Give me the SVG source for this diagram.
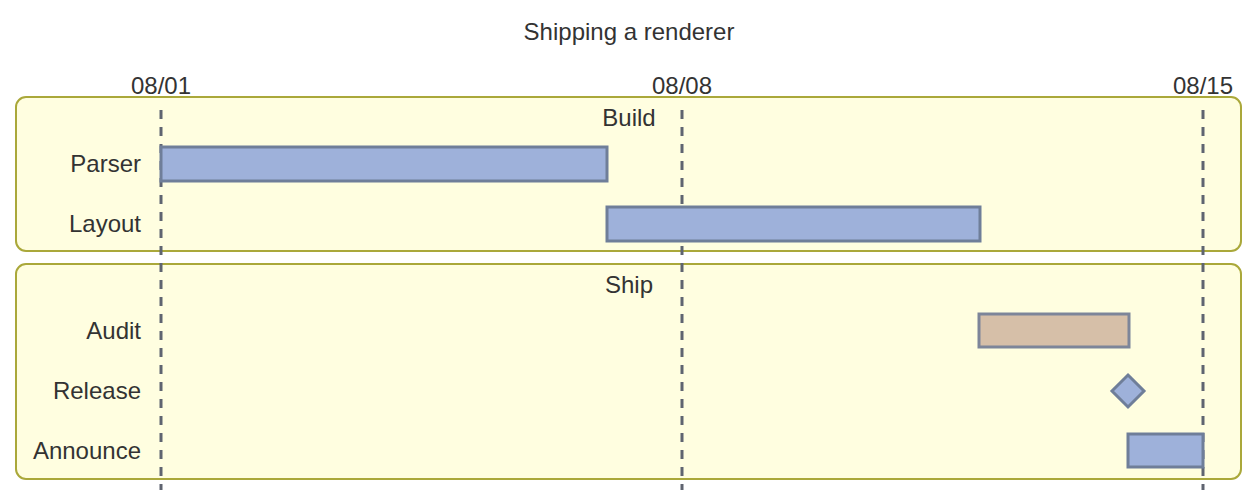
<svg xmlns="http://www.w3.org/2000/svg" width="1259" height="504" viewBox="0 0 1259 504">
<style>
text{font-family:"Liberation Sans",Arial,sans-serif;font-size:24px;fill:#333}
.sec{fill:#fffee0;stroke:#aaa83a;stroke-width:2}
.bar{fill:#9eb1da;stroke:#6f7e99;stroke-width:3}
.crit{fill:#d6bfa8;stroke:#7d8599;stroke-width:3}
.grid{stroke:#5f6470;stroke-width:3;stroke-dasharray:9,8}
.lbl{text-anchor:end}
.mid{text-anchor:middle}
</style>
<rect width="1259" height="504" fill="#fff"/>
<text x="629" y="40" class="mid">Shipping a renderer</text>
<g id="build"><rect class="sec" x="16" y="97" width="1225" height="154" rx="10"/><text x="629" y="126" class="mid">Build</text></g>
<g id="ship"><rect class="sec" x="16" y="264" width="1225" height="215" rx="10"/><text x="629" y="293" class="mid">Ship</text></g>
<g id="axis">
<text x="161" y="94" class="mid">08/01</text>
<text x="682" y="94" class="mid">08/08</text>
<text x="1203" y="94" class="mid">08/15</text>
</g>
<g id="connectors">
<line class="grid" x1="161" y1="110" x2="161" y2="490"/>
<line class="grid" x1="682" y1="110" x2="682" y2="490"/>
<line class="grid" x1="1203" y1="110" x2="1203" y2="490"/>
</g>
<g id="parser"><text x="141" y="172" class="lbl">Parser</text><rect class="bar" x="161" y="147" width="446" height="34"/></g>
<g id="layout"><text x="141" y="232" class="lbl">Layout</text><rect class="bar" x="607" y="207" width="373" height="34"/></g>
<g id="audit"><text x="141" y="339" class="lbl">Audit</text><rect class="crit" x="979" y="314" width="150" height="33"/></g>
<g id="release"><text x="141" y="399" class="lbl">Release</text><polygon class="bar" points="1128,375 1144,391 1128,407 1112,391"/></g>
<g id="announce"><text x="141" y="459" class="lbl">Announce</text><rect class="bar" x="1128" y="434" width="75" height="33"/></g>
</svg>
